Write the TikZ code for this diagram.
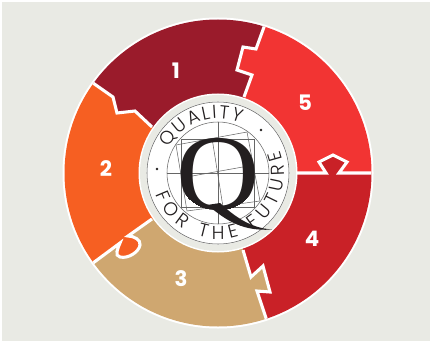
\documentclass[tikz,border=0pt]{standalone}
\usepackage{fontspec}
\usepackage{tikz}
\usetikzlibrary{decorations.text}
\setmainfont{Liberation Serif}
\newfontfamily\ringfont{Poppins Light}
\newfontfamily\numfont{Poppins Bold}
\definecolor{pagebg}{HTML}{E9EAE4}
\definecolor{secone}{HTML}{9A1B2B}
\definecolor{sectwo}{HTML}{F65F22}
\definecolor{secthree}{HTML}{CFA770}
\definecolor{secfour}{HTML}{C92127}
\definecolor{secfive}{HTML}{F23433}
\definecolor{inkgrey}{HTML}{666666}
\definecolor{inkblack}{HTML}{231F20}
\tikzset{
  seam/.style={draw=white, line width=2.3pt, line join=miter},
  numlab/.style={text=white, font=\numfont\fontsize{16}{16}\selectfont, inner sep=0pt},
  grid/.style={draw=inkgrey, line width=0.4pt},
  ringtext/.style={decorate, decoration={text along path, text align=fit to path,
    text={|\ringfont\fontsize{14}{14}\selectfont\color{inkblack}|#1}}},
}
\begin{document}
\begin{tikzpicture}[x=0.75pt,y=-0.75pt]
  \useasboundingbox (0,0) rectangle (431,342);
  \fill[white] (0,0) rectangle (431,342);
  \fill[pagebg] (2,2) rectangle (430,341);
  \coordinate (c) at (218,173);
  \fill[white] (c) circle[radius=155.5*0.75pt];
  % sectors
  \begin{scope}
    \clip (c) circle[radius=153.5*0.75pt];
    \fill[secone] (c) -- (152,127) -- (135,111) -- (117,113) -- (113,97) -- (93,83) -- (50,50) -- (270,0)
      -- (264,27) -- (256,49) -- (243,47) -- (237,70) -- (252,75) -- (244,97) -- cycle;
    \fill[secfive] (c) -- (244,97) -- (252,75) -- (237,70) -- (243,47) -- (256,49) -- (264,27) -- (270,0) -- (400,0)
      -- (400,173) -- (339,173) -- (347,162) -- (333,155) -- (319,162) -- (326,173) -- cycle;
    \fill[secfour] (c) -- (326,173) -- (319,162) -- (333,155) -- (347,162) -- (339,173) -- (400,173) -- (400,342) -- (272,342)
      -- (266,318) -- (257,291) -- (270,292) -- (263,266) -- (251,277) -- (243,250) -- cycle;
    \fill[secthree] (c) -- (243,250) -- (251,277) -- (263,266) -- (270,292) -- (257,291) -- (266,318) -- (272,342) -- (60,342)
      -- (60,288) -- (93,263) -- (120,243) .. controls (118,248) and (114,256) .. (120,257)
      .. controls (128,259) and (139,252) .. (140,245) .. controls (141,240) and (134,236) .. (128,236) -- (152,219) -- cycle;
    \fill[sectwo] (c) -- (152,219) -- (128,236) .. controls (134,236) and (141,240) .. (140,245)
      .. controls (139,252) and (128,259) .. (120,257) .. controls (114,256) and (118,248) .. (120,243)
      -- (93,263) -- (60,288) -- (30,173) -- (50,50) -- (93,83) -- (113,97) -- (117,113) -- (135,111) -- (152,127) -- cycle;
    % white seams
    \draw[seam] (152,127) -- (135,111) -- (117,113) -- (113,97) -- (93,83) -- (50,50);
    \draw[seam] (244,97) -- (252,75) -- (237,70) -- (243,47) -- (256,49) -- (264,27) -- (270,0);
    \draw[seam] (297,173) -- (326,173) -- (319,162) -- (333,155) -- (347,162) -- (339,173) -- (400,173);
    \draw[seam] (243,250) -- (251,277) -- (263,266) -- (270,292) -- (257,291) -- (266,318) -- (272,342);
    \draw[seam] (152,219) -- (128,236) .. controls (134,236) and (141,240) .. (140,245)
      .. controls (139,252) and (128,259) .. (120,257) .. controls (114,256) and (118,248) .. (120,243) -- (93,263) -- (60,288);
  \end{scope}
  \node[numlab] (one) at (176,71) {1};
  \node[numlab] (two) at (106,169) {2};
  \node[numlab] (three) at (181,279) {3};
  \node[numlab] (four) at (312,239) {4};
  \node[numlab] (five) at (305,103) {5};
  % badge
  \fill[white] (c) circle[radius=79.5*0.75pt];
  \fill[pagebg] (c) circle[radius=78*0.75pt];
  \fill[white] (c) circle[radius=71.5*0.75pt];
  \draw[grid] (c) circle[radius=71*0.75pt];
  \draw[grid] (c) circle[radius=51*0.75pt];
  \draw[grid] (167,173) -- (269,173);
  \draw[grid] (218,122) -- (218,224);
  \draw[grid] (181,139) rectangle (254,207);
  \draw[grid] (176,145) -- (247,132) -- (260,201) -- (187,211) -- cycle;
  \draw[grid] (181,178) -- (254,165);
  \draw[grid] (212,138) -- (223,207);
  \fill[inkblack] (261,130) circle[radius=1pt];
  \fill[inkblack] (157,169) circle[radius=1pt];
  \begin{scope}
    \clip (217.5,172.5) circle[x radius=40*0.75pt, y radius=37.5*0.75pt];
    \node[inner sep=0pt, text=inkblack, font=\fontsize{76}{76}\selectfont, transform shape, xscale=1.14, yscale=1.06] (qmark) at (218,183) {Q};
  \end{scope}
  \fill[inkblack] (207,205) .. controls (222,216) and (238,232) .. (272,229.5)
    .. controls (250,228) and (234,216) .. (220,203) -- cycle;
  \begin{scope}[shift={(c)}, x=0.75pt, y=0.75pt]
    \path[ringtext={QUALITY}] (153:40.9pt) arc[start angle=153, end angle=66, radius=40.9pt];
    \path[ringtext={FOR THE FUTURE}] (199:49.5pt) arc[start angle=199, end angle=380, radius=49.5pt];
  \end{scope}
\end{tikzpicture}
\end{document}
